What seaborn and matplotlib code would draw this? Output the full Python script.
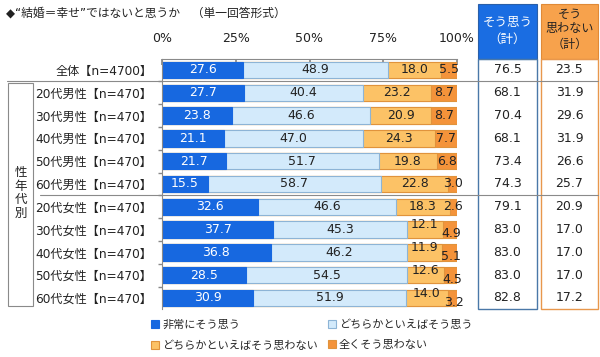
import matplotlib
matplotlib.use('Agg')
import pandas as pd
import matplotlib.pyplot as plt
import seaborn as sns
from matplotlib.patches import Rectangle, Patch
from matplotlib.lines import Line2D

# Data
labels = ['全体【n=4700】',
          '20代男性【n=470】', '30代男性【n=470】', '40代男性【n=470】',
          '50代男性【n=470】', '60代男性【n=470】',
          '20代女性【n=470】', '30代女性【n=470】', '40代女性【n=470】',
          '50代女性【n=470】', '60代女性【n=470】']
very = [27.6, 27.7, 23.8, 21.1, 21.7, 15.5, 32.6, 37.7, 36.8, 28.5, 30.9]
some = [48.9, 40.4, 46.6, 47.0, 51.7, 58.7, 46.6, 45.3, 46.2, 54.5, 51.9]
not_much = [18.0, 23.2, 20.9, 24.3, 19.8, 22.8, 18.3, 12.1, 11.9, 12.6, 14.0]
not_at_all = [5.5, 8.7, 8.7, 7.7, 6.8, 3.0, 2.6, 4.9, 5.1, 4.5, 3.2]
agree_total = [76.5, 68.1, 70.4, 68.1, 73.4, 74.3, 79.1, 83.0, 83.0, 83.0, 82.8]
disagree_total = [23.5, 31.9, 29.6, 31.9, 26.6, 25.7, 20.9, 17.0, 17.0, 17.0, 17.2]
legend_names = ['非常にそう思う', 'どちらかといえばそう思う',
                'どちらかといえばそう思わない', '全くそう思わない']
title = '◆“結婚＝幸せ”ではないと思うか　（単一回答形式）'

DARK_BL = '#1768e0'
LIGHT_BL = '#d3eafb'
LIGHT_OR = '#fcc266'
DARK_OR = '#f4933a'
EDGE_BL = '#8db4d6'
EDGE_OR = '#e0933c'

sns.set_theme(style='white')
plt.rcParams['font.family'] = ['DejaVu Sans', 'Noto Sans CJK JP']

W, H = 600, 357
def fx(px):
    return px / W
def fy(py):
    return 1 - py / H

TOP, BOT = 58.6, 309.4
PITCH = (BOT - TOP) / len(labels)

df = pd.DataFrame({'label': labels, 'very': very, 'some': some,
                   'not_much': not_much, 'not_at_all': not_at_all})
df['c1'] = df['very']
df['c2'] = df['c1'] + df['some']
df['c3'] = df['c2'] + df['not_much']
df['c4'] = df['c3'] + df['not_at_all']

fig = plt.figure(figsize=(6, 3.57), dpi=100)
ax = fig.add_axes([fx(162), fy(BOT), fx(457) - fx(162), (BOT - TOP) / H])

# stacked bars: draw cumulative totals back to front
for col, color, edge in [('c4', DARK_OR, EDGE_OR), ('c3', LIGHT_OR, EDGE_OR),
                         ('c2', LIGHT_BL, EDGE_BL), ('c1', DARK_BL, DARK_BL)]:
    sns.barplot(data=df, x=col, y='label', orient='h', color=color,
                edgecolor=edge, linewidth=0.8, width=0.72, saturation=1, ax=ax)

ax.set_xlim(0, 100)
ax.set_ylim(len(labels) - 0.5, -0.5)
ax.set_xlabel('')
ax.set_ylabel('')
ax.xaxis.tick_top()
ax.set_xticks([0, 25, 50, 75, 100])
ax.set_xticklabels(['0%', '25%', '50%', '75%', '100%'])
ax.tick_params(axis='x', direction='in', length=4, color='#888888',
               labelsize=9, pad=10, labelcolor='#222222')
ax.tick_params(axis='y', which='major', length=0, labelsize=8.7, pad=7,
               labelcolor='#222222')
ax.set_yticks([i + 0.5 for i in range(len(labels) - 1)], minor=True)
ax.tick_params(axis='y', which='minor', direction='out', length=3,
               color='#888888', left=True)
for s in ['right', 'bottom']:
    ax.spines[s].set_visible(False)
for s in ['top', 'left']:
    ax.spines[s].set_color('#8a8a8a')
    ax.spines[s].set_linewidth(0.8)

# value labels
for i in range(len(labels)):
    c1, c2, c3, c4 = df.loc[i, ['c1', 'c2', 'c3', 'c4']]
    stagger = not_much[i] < 15 and not_at_all[i] < 6
    ax.text(c1 / 2, i, f'{very[i]:.1f}', ha='center', va='center',
            color='white', fontsize=9)
    ax.text((c1 + c2) / 2, i, f'{some[i]:.1f}', ha='center', va='center',
            color='#222222', fontsize=9)
    ax.annotate(f'{not_much[i]:.1f}', ((c2 + c3) / 2, i),
                xytext=(0, 3.5 if stagger else 0), textcoords='offset points',
                ha='center', va='center', color='#222222', fontsize=9)
    ax.annotate(f'{not_at_all[i]:.1f}', ((c3 + c4) / 2, i),
                xytext=(1 if stagger else 0, -3 if stagger else 0),
                textcoords='offset points',
                ha='center', va='center', color='#222222', fontsize=9)

# right side table
tax = fig.add_axes([fx(478), fy(BOT), fx(598) - fx(478), (BOT - TOP) / H])
tax.set_xlim(478, 598)
tax.set_ylim(len(labels) - 0.5, -0.5)
tax.axis('off')
head_top = -0.5 - (TOP - 4) / PITCH
tax.add_patch(Rectangle((478, head_top), 59, -0.5 - head_top, facecolor='#1a6de2',
                        edgecolor='#2a5fa8', lw=0.8, clip_on=False))
tax.add_patch(Rectangle((541, head_top), 57, -0.5 - head_top, facecolor='#f7a24c',
                        edgecolor='#e08a36', lw=0.8, clip_on=False))
tax.add_patch(Rectangle((478, -0.5), 59, len(labels), facecolor='none',
                        edgecolor='#4a78a8', lw=1.0, clip_on=False))
tax.add_patch(Rectangle((541, -0.5), 57, len(labels), facecolor='none',
                        edgecolor='#e8974c', lw=1.0, clip_on=False))
tax.text(507.5, -0.5 - (TOP - 31) / PITCH, 'そう思う\n（計）', ha='center',
         va='center', color='white', fontsize=9, linespacing=1.4)
tax.text(569.5, -0.5 - (TOP - 29) / PITCH, 'そう\n思わない\n（計）', ha='center',
         va='center', color='#222222', fontsize=8.7, linespacing=1.2)
for i in range(len(labels)):
    tax.text(507.5, i, f'{agree_total[i]:.1f}', ha='center', va='center',
             color='#222222', fontsize=9)
    tax.text(569.5, i, f'{disagree_total[i]:.1f}', ha='center', va='center',
             color='#222222', fontsize=9)

# group separators
y1 = TOP + PITCH
y6 = TOP + 6 * PITCH
fig.add_artist(Line2D([fx(7), fx(598)], [fy(y1), fy(y1)], color='#8a8a8a', lw=0.8))
fig.add_artist(Line2D([fx(40), fx(598)], [fy(y6), fy(y6)], color='#8a8a8a', lw=0.8))
fig.add_artist(Rectangle((fx(8), fy(306)), fx(33) - fx(8), (306 - y1 - 2) / H,
                         facecolor='none', edgecolor='#8a8a8a', lw=0.8,
                         transform=fig.transFigure))
fig.text(fx(20.5), fy(193), '性\n年\n代\n別', ha='center', va='center',
         fontsize=9, linespacing=1.05, color='#222222')

fig.text(fx(6), fy(13), title, ha='left', va='center', fontsize=8.5,
         color='#222222')

# legend
colors = [(DARK_BL, DARK_BL), (LIGHT_OR, EDGE_OR), (LIGHT_BL, EDGE_BL), (DARK_OR, EDGE_OR)]
order = [0, 2, 1, 3]
handles = [Patch(facecolor=colors[k][0], edgecolor=colors[k][1], lw=0.8) for k in range(4)]
names = [legend_names[order[k]] for k in range(4)]
fig.legend(handles, names, loc='upper left', bbox_to_anchor=(fx(151), fy(319)),
           ncol=2, frameon=False, fontsize=8, handlelength=0.7, handleheight=0.7,
           handletextpad=0.3, columnspacing=0.9, labelspacing=0.95,
           borderaxespad=0, borderpad=0)

fig.savefig('out.png', dpi=100)
